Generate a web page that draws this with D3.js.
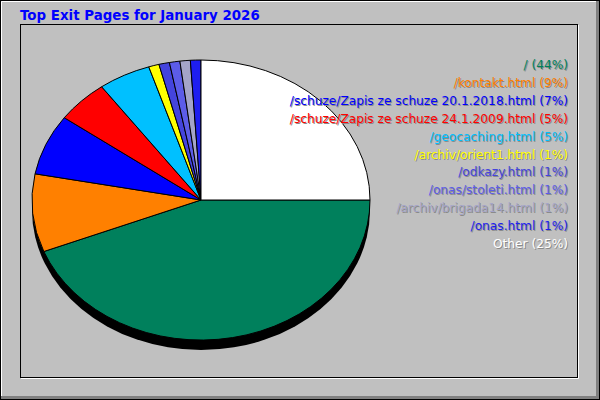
<!DOCTYPE html>
<html>
<head>
<meta charset="utf-8">
<script src="https://cdn.jsdelivr.net/npm/d3@7"></script>
<style>
  body { margin: 0; background: #c0c0c0; }
  svg { display: block; }
</style>
</head>
<body>
<div id="wrapper"></div>
<script>
// data
const pages = [
	"/",
	"/kontakt.html",
	"/schuze/Zapis ze schuze 20.1.2018.html",
	"/schuze/Zapis ze schuze 24.1.2009.html",
	"/geocaching.html",
	"/archiv/orient1.html",
	"/odkazy.html",
	"/onas/stoleti.html",
	"/archiv/brigada14.html",
	"/onas.html",
	"Other",
];
const percents = [44, 9, 7, 5, 5, 1, 1, 1, 1, 1, 25];
const colors = [
	"#00805c", "#ff8000", "#0000ff", "#ff0000", "#00c0ff", "#ffff00",
	"#4444dd", "#5c5ce8", "#a4a4c8", "#1e1ef0", "#ffffff",
];
const title = "Top Exit Pages for January 2026";

const dataset = pages.map((p, i) => ({ page: p, value: percents[i], color: colors[i] }));

// dimensions
const dimensions = { width: 600, height: 400 };
const pie = { cx: 201, cy: 200, rx: 169, ry: 140, depth: 10 };

const svg = d3
	.select("#wrapper")
	.append("svg")
	.attr("width", dimensions.width)
	.attr("height", dimensions.height);

// frame
svg.append("rect").attr("width", 600).attr("height", 400).attr("fill", "#c0c0c0");
svg.append("path").attr("d", "M596,1.5H1.5V396").attr("fill", "none").attr("stroke", "#ffffff");
svg.append("path").attr("d", "M597.5,1V397.5H1").attr("fill", "none").attr("stroke", "#808080").attr("stroke-width", 3);
svg.append("rect").attr("x", 0.5).attr("y", 0.5).attr("width", 599).attr("height", 399)
	.attr("fill", "none").attr("stroke", "#000000");

svg.append("path").attr("d", "M578.5,25V378.5H21").attr("fill", "none").attr("stroke", "#ffffff");
svg.append("rect").attr("x", 20.5).attr("y", 24.5).attr("width", 557).attr("height", 353)
	.attr("fill", "none").attr("stroke", "#000000");

svg.append("text")
	.attr("x", 20)
	.attr("y", 19.5)
	.attr("font-family", "DejaVu Sans")
	.attr("font-weight", "bold")
	.attr("font-size", 13.4)
	.attr("fill", "#0000ff")
	.text(title);

// pie shadow
svg.append("ellipse")
	.attr("cx", pie.cx)
	.attr("cy", pie.cy + pie.depth)
	.attr("rx", pie.rx)
	.attr("ry", pie.ry)
	.attr("fill", "#000000");

const pieGen = d3.pie()
	.sort(null)
	.value((d) => d.value)
	.startAngle(Math.PI / 2)
	.endAngle(Math.PI / 2 + 2 * Math.PI);

const arc = d3.arc().innerRadius(0).outerRadius(1);

const bounds = svg.append("g")
	.attr("transform", `translate(${pie.cx},${pie.cy}) scale(${pie.rx},${pie.ry})`);

bounds.selectAll("path")
	.data(pieGen(dataset))
	.join("path")
	.attr("d", arc)
	.attr("fill", (d) => d.data.color)
	.attr("stroke", "#000000")
	.attr("stroke-width", 1)
	.attr("vector-effect", "non-scaling-stroke");

// legend
const yScale = d3.scaleLinear().domain([0, pages.length - 1]).range([69, 248]);
const legend = svg.append("g")
	.attr("font-family", "DejaVu Sans")
	.attr("font-size", 12.2)
	.attr("text-anchor", "end");

dataset.forEach((d, i) => {
	const label = `${d.page} (${d.value}%)`;
	legend.append("text")
		.attr("x", 569)
		.attr("y", yScale(i) + 1)
		.attr("fill", "#8a8a8a")
		.text(label);
	legend.append("text")
		.attr("x", 568)
		.attr("y", yScale(i))
		.attr("fill", d.color)
		.text(label);
});
</script>
</body>
</html>
